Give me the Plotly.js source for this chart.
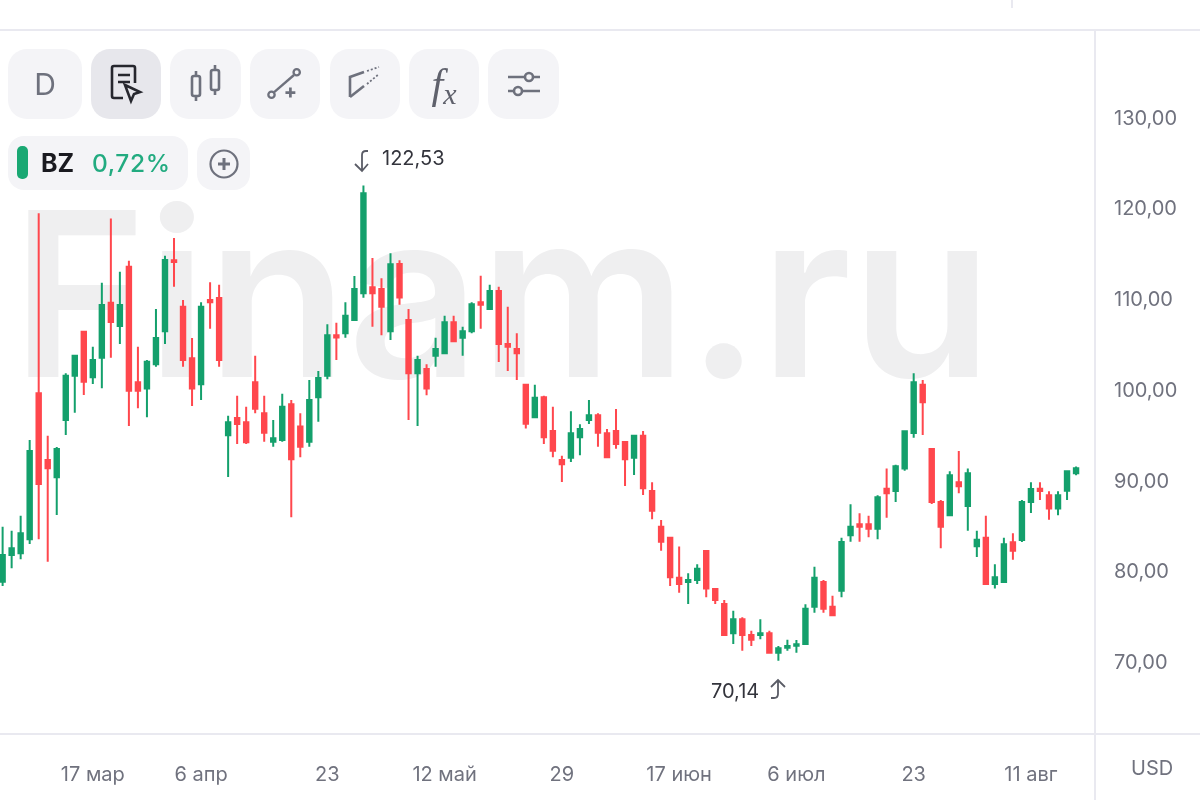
<!DOCTYPE html>
<html><head><meta charset="utf-8">
<script src="https://cdn.plot.ly/plotly-3.0.1.min.js"></script>
<style>
html,body{margin:0;padding:0;background:#fff;width:1200px;height:800px;overflow:hidden;font-family:Inter,"Noto Sans",sans-serif}
#wrap{position:absolute;left:0;top:0;width:1200px;height:800px;filter:blur(0.45px)}
#chart{position:absolute;left:0;top:0;width:1200px;height:800px}
.b{position:absolute;top:49px;height:70px;background:#f4f4f7;border-radius:19px;display:flex;align-items:center;justify-content:center}
.b svg{display:block}
.on{background:#e7e7ec}
.txt{position:absolute;white-space:nowrap}
</style></head><body>
<div id="wrap">
<div id="chart"></div>
<div class="b" style="left:8px;width:74px;color:#6e717d;font-size:30px">D</div>
<div class="b on" style="left:91px;width:70px"><svg width="40" height="44" viewBox="0 0 40 44" fill="none" stroke="#26272e" stroke-width="2.6"><path d="M17 36H8q-2 0-2-2V6q0-2 2-2h19q2 0 2 2v15"/><path d="M12 13h12M12 20h12"/><path d="M19 23l15 7-6 2-3 7z"/></svg></div>
<div class="b" style="left:170px;width:71px"><svg width="40" height="44" viewBox="0 0 40 44" fill="none" stroke="#6e717d" stroke-width="2.6"><rect x="6" y="14" width="8" height="20" rx="2"/><path d="M10 9v5M10 34v5"/><rect x="25" y="8" width="8" height="20" rx="2"/><path d="M29 3v5M29 28v5"/></svg></div>
<div class="b" style="left:250px;width:70px"><svg width="36" height="36" viewBox="0 0 40 40" fill="none" stroke="#6e717d" stroke-width="2.6"><circle cx="5" cy="32" r="3.5"/><circle cx="33" cy="7" r="3.5"/><path d="M8 29L30 10"/><path d="M26 24v11M20.500 29.500h11" stroke-width="3"/></svg></div>
<div class="b" style="left:330px;width:70px"><svg width="40" height="40" viewBox="0 0 40 40" fill="none" stroke="#6e717d" stroke-width="2.6"><path d="M5 33V13l14-5"/><path d="M5 33l14-11"/><path d="M22 7l12-4M22 20l12-10" stroke-dasharray="2 2" stroke-width="1.800"/></svg></div>
<div class="b" style="left:409px;width:70px;color:#5f616c;font:italic 400 42px 'Liberation Serif',serif"><span>f<span style="font-size:30px;position:relative;top:6px">x</span></span></div>
<div class="b" style="left:488px;width:71px"><svg width="40" height="32" viewBox="0 0 40 32" fill="none" stroke="#6e717d" stroke-width="2.6"><path d="M4 9h17M29 9h7M4 23h6M18 23h18"/><circle cx="25" cy="9" r="4"/><circle cx="14" cy="23" r="4"/></svg></div>
<div class="b" style="left:8px;top:136px;width:180px;height:54px;border-radius:16px"></div>
<div style="position:absolute;left:17px;top:146px;width:11px;height:33px;border-radius:5px;background:#1aa873"></div>
<div class="txt" style="left:41px;top:149px;font-size:25px;line-height:28px;font-weight:700;color:#1a1a20">BZ</div>
<div class="txt" style="left:92px;top:149px;font-size:24.500px;line-height:28px;font-weight:500;color:#22ab80;letter-spacing:.6px">0,72%</div>
<div class="b" style="left:197px;top:138px;width:53px;height:52px;border-radius:16px"><svg width="32" height="32" viewBox="0 0 32 32" fill="none" stroke="#6e717d" stroke-width="2.2"><circle cx="16" cy="16" r="13.500"/><path d="M16 10v12M10 16h12" stroke-width="3"/></svg></div>
<svg style="position:absolute;left:350px;top:146px" width="24" height="30" viewBox="0 0 24 30" fill="none" stroke="#5a5c66" stroke-width="1.800"><path d="M19 6h-2q-4 0-4 4v15M6 19l7 7 6-7" transform="translate(-1,-1)"/></svg>
<svg style="position:absolute;left:766px;top:676px" width="24" height="28" viewBox="0 0 24 28" fill="none" stroke="#5a5c66" stroke-width="1.800"><path d="M5 22h3q4 0 4-4V4M5 11l7-7 7 7"/></svg>
</div>
<script>
var opens=[78.85,81.80,81.98,83.53,99.62,92.27,90.36,96.68,101.57,106.42,101.38,103.55,109.62,107.04,113.59,100.83,100.14,102.82,106.46,114.28,
109.18,103.48,100.61,109.91,110.13,94.99,96.90,96.42,100.83,97.42,94.29,94.48,98.41,95.95,94.29,99.18,101.57,106.02,106.24,107.71,
110.65,111.31,111.12,106.46,113.88,107.71,101.83,102.30,103.77,104.03,107.45,105.76,106.46,109.65,108.92,110.90,105.06,104.51,100.58,96.97,
99.18,95.47,92.27,92.53,94.77,96.68,97.20,95.21,95.47,94.25,92.53,94.95,88.85,84.92,83.71,79.30,78.82,79.04,82.24,78.05,
76.39,73.16,74.70,72.98,72.98,73.16,71.03,71.58,71.80,71.98,76.10,78.82,76.10,77.86,83.97,85.18,85.18,84.70,89.11,88.85,
91.32,95.25,100.58,93.48,87.64,86.17,89.81,87.20,82.75,83.71,78.60,78.82,83.19,83.45,87.64,89.11,88.38,86.91,88.89,90.80];
var closes=[81.80,82.54,84.19,93.26,89.62,91.36,93.48,101.57,103.77,100.91,103.30,109.36,107.49,109.36,99.91,99.91,103.11,105.72,114.32,114.10,
103.30,100.14,109.18,109.65,103.30,96.42,96.24,94.22,97.93,95.28,94.66,98.15,92.34,93.74,98.89,101.31,106.02,105.79,108.18,111.12,
121.67,110.65,109.18,113.84,110.20,101.83,103.30,100.14,104.51,107.45,105.35,106.46,109.43,109.40,110.90,105.06,104.77,104.03,96.28,99.14,
94.77,93.30,91.79,95.21,95.69,97.20,95.28,92.56,94.03,92.34,94.95,89.15,86.68,83.27,79.33,78.60,79.04,80.29,78.09,76.84,
72.98,74.70,72.98,72.46,73.16,71.03,71.51,71.76,71.95,75.88,79.30,75.88,75.15,83.23,84.92,84.92,84.70,88.15,88.60,91.57,
95.43,100.83,98.63,87.64,84.92,90.58,89.37,90.80,83.49,78.60,79.33,82.97,82.27,87.64,89.07,88.85,86.91,88.38,91.02,91.35];
var highs=[84.92,84.48,86.13,94.48,119.47,94.95,93.70,101.83,103.77,106.42,104.77,111.82,118.91,113.03,114.25,104.77,103.30,108.92,114.80,116.75,
109.91,105.72,109.65,111.86,111.60,97.16,99.36,98.15,103.77,99.36,96.68,99.58,98.89,97.42,101.09,102.08,107.23,107.41,109.65,112.56,
122.53,114.54,112.30,115.06,114.28,108.92,103.77,102.82,105.76,108.18,108.18,106.97,109.65,112.59,111.60,111.38,109.18,106.24,100.65,100.58,
99.36,98.15,92.75,97.64,96.20,98.89,97.42,95.69,97.89,94.25,94.95,95.47,89.81,85.66,83.71,82.72,79.78,80.77,82.24,78.09,
76.84,75.66,74.92,73.45,74.70,73.45,71.76,72.46,72.43,76.36,80.51,79.04,77.31,83.71,87.38,86.39,86.13,88.38,91.32,91.76,
95.43,101.83,101.09,93.48,87.86,91.02,93.26,91.32,84.48,86.13,80.77,83.71,84.19,87.86,89.81,89.81,88.82,88.82,91.06,91.54];
var lows=[78.38,80.33,81.32,83.01,83.53,81.06,86.21,95.03,97.49,99.44,100.65,100.17,103.55,105.06,96.02,97.97,96.97,102.56,105.06,111.38,
102.56,98.22,98.89,106.75,102.56,90.40,94.03,94.03,97.42,94.29,93.74,94.29,85.95,92.56,93.74,96.50,101.16,103.30,105.76,107.60,
110.17,106.97,106.02,105.50,109.40,96.68,96.02,99.40,102.56,103.95,105.24,103.77,106.24,106.75,108.88,103.08,102.08,101.09,95.73,96.90,
94.03,92.56,89.85,92.05,92.79,96.24,93.74,92.50,93.52,89.40,90.62,88.41,85.73,82.27,78.38,77.64,76.39,78.60,77.13,76.39,
72.90,71.98,71.25,71.76,72.50,71.00,70.14,71.25,71.03,71.90,75.44,75.44,75.10,77.13,83.27,83.27,83.74,83.52,85.91,87.64,
91.09,94.73,95.03,87.42,82.53,86.10,88.60,84.48,81.58,78.55,78.09,78.80,81.28,83.23,86.43,87.86,85.69,86.17,87.86,90.58];
var xTickIndex=[10,22,36,49,62,75,88,101,114];
var xTickText=['17 мар','6 апр','23','12 май','29','17 июн','6 июл','23','11 авг'];
var yTickVals=[70,80,90,100,110,120,130];
var yTickText=['70,00','80,00','90,00','100,00','110,00','120,00','130,00'];
var indices=opens.map(function(_,i){return i;});
var GREEN='#14a06c',RED='#ff474d',LINE='#e9e9f0',LABEL='#70727e';
var font={family:'Inter, sans-serif',size:20,color:LABEL};
var W=1095,H=704;
var trace={type:'candlestick',x:indices,open:opens,high:highs,low:lows,close:closes,whiskerwidth:0,hoverinfo:'skip',
 increasing:{line:{color:GREEN,width:2},fillcolor:GREEN},decreasing:{line:{color:RED,width:2},fillcolor:RED}};
var layout={width:1200,height:800,margin:{l:0,r:105,t:30,b:66},paper_bgcolor:'#fff',plot_bgcolor:'#fff',showlegend:false,boxgap:0.3,
 xaxis:{range:[-0.29,121.1],tickmode:'array',tickvals:xTickIndex,ticktext:xTickText,tickfont:font,showgrid:false,zeroline:false,showline:false,ticks:'outside',ticklen:22,tickcolor:'rgba(0,0,0,0)',rangeslider:{visible:false},fixedrange:true},
 yaxis:{side:'right',range:[62.06,139.68],tickmode:'array',tickvals:yTickVals,ticktext:yTickText,tickfont:font,showgrid:false,zeroline:false,showline:false,ticks:'outside',ticklen:14,tickcolor:'rgba(0,0,0,0)',fixedrange:true},
 shapes:[
  {type:'rect',layer:'below',xref:'paper',yref:'paper',x0:22/W,x1:982/W,y0:(734-376)/H,y1:(734-196)/H,line:{width:0},fillcolor:'rgba(0,0,0,0)',
   label:{text:'Finam.ru',textposition:'middle center',font:{family:'Inter, sans-serif',size:230,weight:600,color:'#efeff0'}}},
  {type:'line',xref:'paper',yref:'paper',x0:0,x1:1200/W,y0:0,y1:0,line:{color:LINE,width:2}},
  {type:'line',xref:'paper',yref:'paper',x0:0,x1:1200/W,y0:1,y1:1,line:{color:LINE,width:2}},
  {type:'line',xref:'paper',yref:'paper',x0:1,x1:1,y0:-66/H,y1:1,line:{color:LINE,width:2}},
  {type:'line',xref:'paper',yref:'paper',x0:1012/W,x1:1012/W,y0:(734-8)/H,y1:734/H,line:{color:LINE,width:2}}
 ],
 annotations:[
  {xref:'paper',yref:'paper',x:1152/W,y:-34/H,text:'USD',showarrow:false,font:font,xanchor:'center',yanchor:'middle'},
  {xref:'x',yref:'y',x:40,y:122.53,xanchor:'left',yanchor:'middle',xshift:17,yshift:28,text:'122,53',showarrow:false,font:{family:'Inter, sans-serif',size:20,color:'#33343c'}},
  {xref:'x',yref:'y',x:86,y:70.14,xanchor:'right',yanchor:'middle',xshift:-17,yshift:-30,text:'70,14',showarrow:false,font:{family:'Inter, sans-serif',size:20,color:'#33343c'}}
 ]};
Plotly.newPlot('chart',[trace],layout,{displayModeBar:false,staticPlot:true});
</script>
</body></html>
